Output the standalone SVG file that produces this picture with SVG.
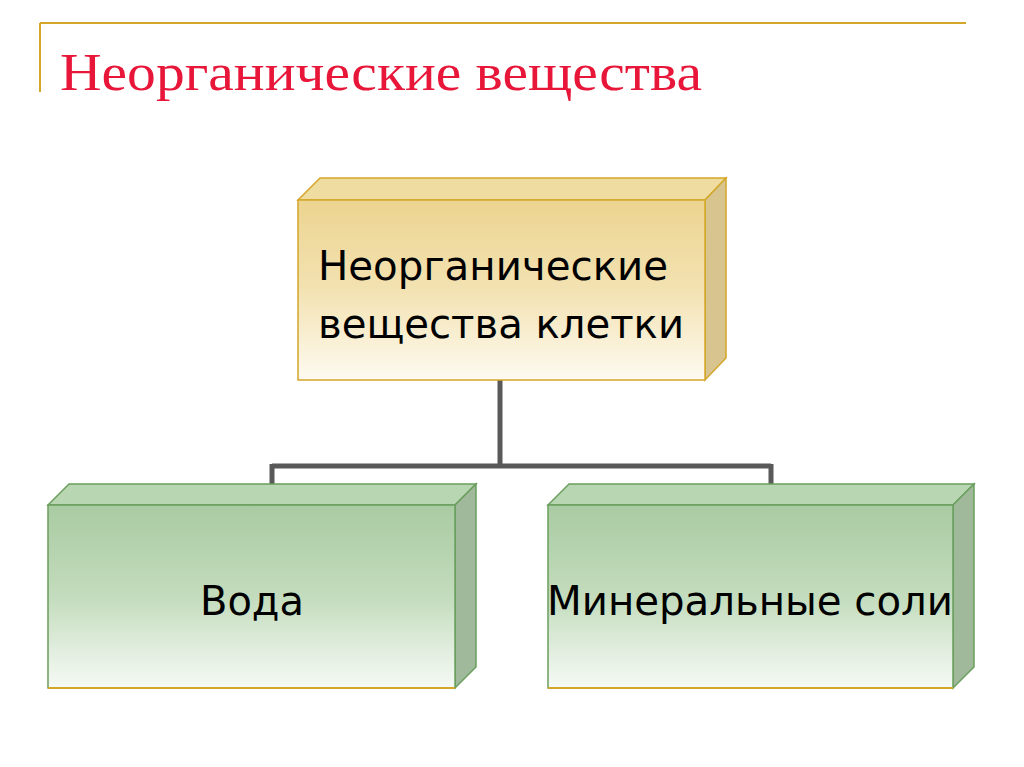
<svg xmlns="http://www.w3.org/2000/svg" width="1024" height="767" viewBox="0 0 1024 767">
<defs>
<linearGradient id="gy" x1="0" y1="0" x2="0" y2="1"><stop offset="0" stop-color="#ecd490"/><stop offset="0.5" stop-color="#f3e2b2"/><stop offset="1" stop-color="#fdfaf0"/></linearGradient>
<linearGradient id="gg" x1="0" y1="0" x2="0" y2="1"><stop offset="0" stop-color="#a9cba2"/><stop offset="0.5" stop-color="#c3dcbd"/><stop offset="1" stop-color="#f6faf5"/></linearGradient>
<style>
.y{stroke:#d4a62a;stroke-width:1.5}
.g{stroke:#6a9f5e;stroke-width:1.5}
.t{font-family:"DejaVu Sans",sans-serif;font-size:40px;fill:#000}
.c{fill:none;stroke:#595959;stroke-width:5}
</style>
</defs>
<rect width="1024" height="767" fill="#fff"/>
<path d="M40 23H966M40 23V92" stroke="#d4a62a" stroke-width="2" fill="none"/>
<text x="60" y="90" font-family="'Liberation Serif',serif" font-size="52" fill="#e8173a" textLength="642" lengthAdjust="spacingAndGlyphs">Неорганические вещества</text>
<g id="connectors">
<path class="c" d="M500 380V466M272 466H771M272 464V484M771 464V484"/>
</g>
<g id="top">
<path class="y" fill="#efdca0" d="M298 200L320 178H726L705 200Z"/>
<path class="y" fill="#d7c48e" d="M705 200L726 178V358L705 380Z"/>
<rect class="y" x="298" y="200" width="407" height="180" fill="url(#gy)"/>
<text class="t" x="318" y="280" textLength="350" lengthAdjust="spacingAndGlyphs">Неорганические</text>
<text class="t" x="318" y="338" textLength="366" lengthAdjust="spacingAndGlyphs">вещества клетки</text>
</g>
<g id="water">
<path class="g" fill="#b9d6b2" d="M48 505L69 484H476L455 505Z"/>
<path class="g" fill="#9fb99a" d="M455 505L476 484V667L455 688Z"/>
<rect class="g" x="48" y="505" width="407" height="183" fill="url(#gg)"/>
<line x1="48" y1="688" x2="455" y2="688" stroke="#d4a62a" stroke-width="2"/>
<text class="t" x="252" y="615" text-anchor="middle">Вода</text>
</g>
<g id="salts">
<path class="g" fill="#b9d6b2" d="M548 505L569 484H974L953 505Z"/>
<path class="g" fill="#9fb99a" d="M953 505L974 484V667L953 688Z"/>
<rect class="g" x="548" y="505" width="405" height="183" fill="url(#gg)"/>
<line x1="548" y1="688" x2="953" y2="688" stroke="#d4a62a" stroke-width="2"/>
<text class="t" x="750" y="615" text-anchor="middle" textLength="406" lengthAdjust="spacingAndGlyphs">Минеральные соли</text>
</g>
</svg>
